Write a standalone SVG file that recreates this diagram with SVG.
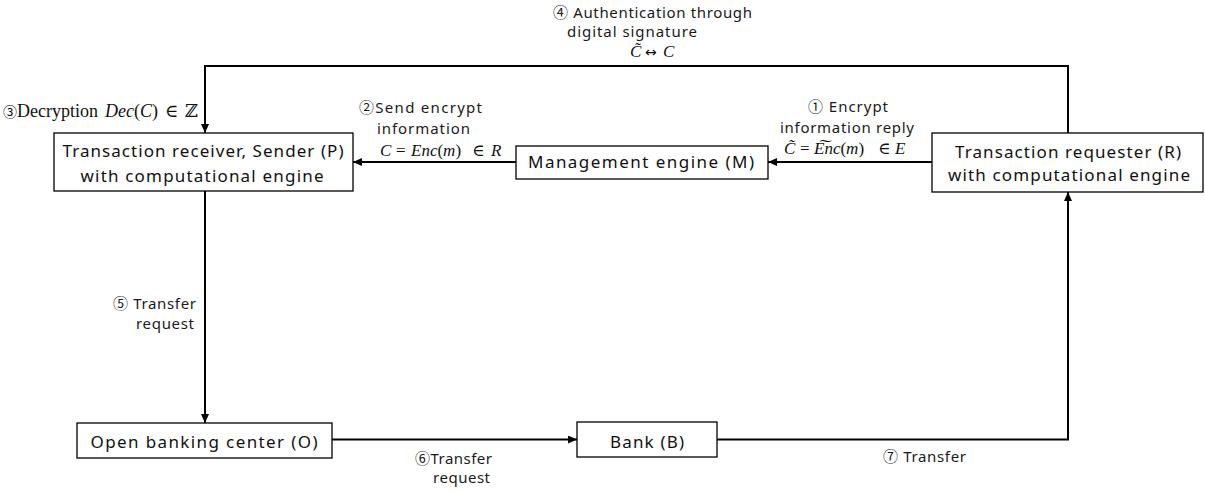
<svg xmlns="http://www.w3.org/2000/svg" width="1205" height="493" viewBox="0 0 1205 493">
  <style>
    .box{fill:#fff;stroke:#000;stroke-width:1.3}
    .node{font-family:"Noto Sans","Noto Sans CJK KR",sans-serif;font-size:17px;fill:#111;text-anchor:middle}
    .lbl{font-family:"Noto Sans","Noto Sans CJK KR",sans-serif;font-size:15px;fill:#1a1a1a}
    .math{font-family:"Liberation Serif","DejaVu Serif","DejaVu Sans",serif;font-size:17px;fill:#111}
    .mi{font-style:italic}
    .op{font-family:"DejaVu Sans",sans-serif;font-size:14px}
    .circ{font-family:"Noto Sans CJK KR","DejaVu Sans",sans-serif;font-style:normal}
    .edge{fill:none;stroke:#000;stroke-width:2}
  </style>
  <defs>
    <marker id="arrow" markerUnits="userSpaceOnUse" markerWidth="9" markerHeight="8" refX="9" refY="4" orient="auto">
      <path d="M0,0 L9,4 L0,8 z" fill="#000"/>
    </marker>
  </defs>

  <!-- connectors -->
  <g id="connectors">
    <path class="edge" d="M1068,133 V66 H205 V133" marker-end="url(#arrow)"/>
    <path class="edge" d="M932,162 H768" marker-end="url(#arrow)"/>
    <path class="edge" d="M516,162 H353" marker-end="url(#arrow)"/>
    <path class="edge" d="M205,191 V423" marker-end="url(#arrow)"/>
    <path class="edge" d="M332,439.5 H577" marker-end="url(#arrow)"/>
    <path class="edge" d="M717,439.5 H1068 V192" marker-end="url(#arrow)"/>
  </g>

  <!-- nodes -->
  <g id="node-P">
    <rect class="box" x="54" y="133" width="299" height="58"/>
    <text class="node" x="203" y="157" textLength="281">Transaction receiver, Sender (P)</text>
    <text class="node" x="202" y="182" textLength="243">with computational engine</text>
  </g>
  <g id="node-M">
    <rect class="box" x="516" y="146" width="252" height="33"/>
    <text class="node" x="641" y="168" textLength="226">Management engine (M)</text>
  </g>
  <g id="node-R">
    <rect class="box" x="932" y="133" width="271" height="59"/>
    <text class="node" x="1068" y="158" textLength="226">Transaction requester (R)</text>
    <text class="node" x="1069" y="181" textLength="242">with computational engine</text>
  </g>
  <g id="node-O">
    <rect class="box" x="77" y="423" width="255" height="35"/>
    <text class="node" x="204" y="448" textLength="227">Open banking center (O)</text>
  </g>
  <g id="node-B">
    <rect class="box" x="577" y="422" width="140" height="35"/>
    <text class="node" x="647" y="448" textLength="74">Bank (B)</text>
  </g>

  <!-- edge labels -->
  <g id="labels">
    <!-- step 4 -->
    <text class="lbl" x="553" y="18" textLength="199">④ Authentication through</text>
    <text class="lbl" x="567" y="37" textLength="130">digital signature</text>
    <text class="math" y="57"><tspan x="630" class="mi">C&#x303;</tspan><tspan x="645" class="op">↔</tspan><tspan x="663" class="mi">C</tspan></text>

    <!-- step 3 -->
    <text class="math" y="117" style="font-size:18px"><tspan x="3" class="circ" style="font-size:14px">③</tspan><tspan x="17">Decryption</tspan><tspan x="105" class="mi">Dec</tspan><tspan>(</tspan><tspan class="mi">C</tspan><tspan>)</tspan><tspan x="165">∈</tspan><tspan x="185">ℤ</tspan></text>

    <!-- step 2 -->
    <text class="lbl" x="359" y="113" textLength="123">②Send encrypt</text>
    <text class="lbl" x="377" y="134" textLength="93">information</text>
    <text class="math" y="156"><tspan x="380" class="mi">C</tspan><tspan x="396">=</tspan><tspan x="411" class="mi">Enc</tspan><tspan>(</tspan><tspan class="mi">m</tspan><tspan>)</tspan><tspan x="472">∈</tspan><tspan x="491" class="mi">R</tspan></text>

    <!-- step 1 -->
    <text class="lbl" x="808" y="112" textLength="80">① Encrypt</text>
    <text class="lbl" x="780" y="133" textLength="134">information reply</text>
    <text class="math" y="154"><tspan x="784" class="mi">C&#x303;</tspan><tspan x="800">=</tspan><tspan x="814" class="mi">E&#x360;nc</tspan><tspan>(</tspan><tspan class="mi">m</tspan><tspan>)</tspan><tspan x="878">∈</tspan><tspan x="895" class="mi">E</tspan></text>

    <!-- step 5 -->
    <text class="lbl" x="113" y="309" textLength="83">⑤ Transfer</text>
    <text class="lbl" x="136" y="329" textLength="58">request</text>

    <!-- step 6 -->
    <text class="lbl" x="415" y="464" textLength="77">⑥Transfer</text>
    <text class="lbl" x="433" y="483" textLength="57">request</text>

    <!-- step 7 -->
    <text class="lbl" x="883" y="462" textLength="83">⑦ Transfer</text>
  </g>
</svg>
